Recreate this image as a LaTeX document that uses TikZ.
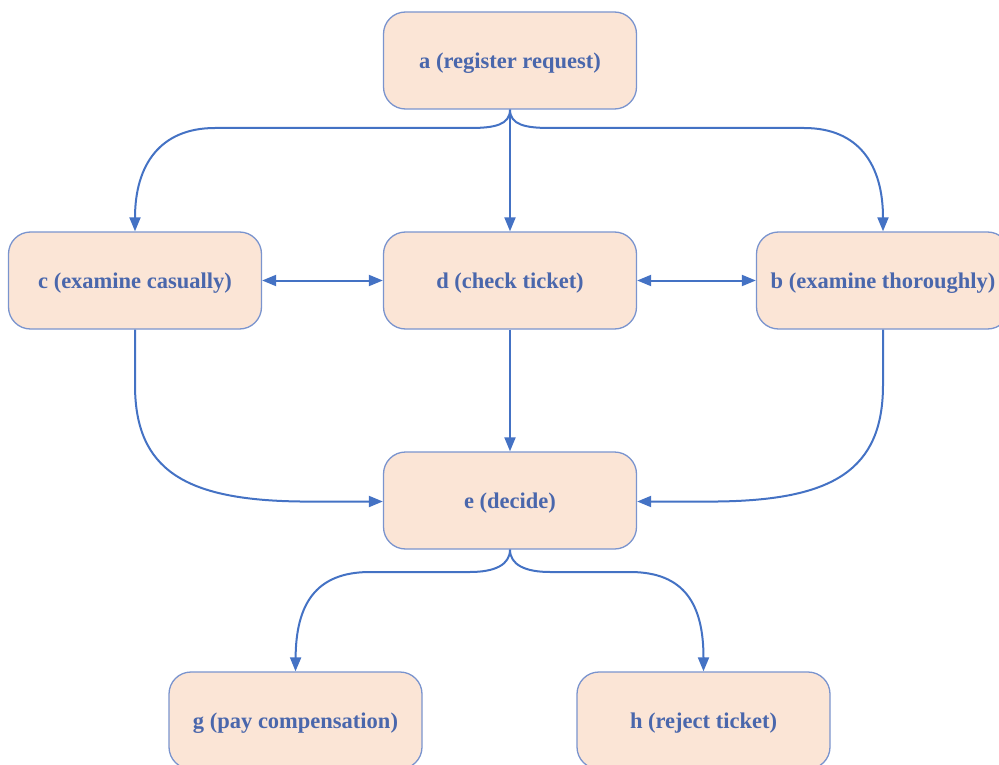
\documentclass[tikz,border=0pt]{standalone}
\usepackage{fontspec}
\setmainfont{Liberation Serif}
\usetikzlibrary{arrows.meta}
\definecolor{flowblue}{HTML}{4472C4}
\definecolor{boxline}{HTML}{7A94CE}
\definecolor{boxfill}{HTML}{FBE5D6}
\definecolor{labelblue}{HTML}{4A67AC}
\begin{document}
\begin{tikzpicture}[x=1pt,y=-1pt,
  task/.style={draw=boxline, line width=1.3pt, fill=boxfill, rounded corners=22pt,
    minimum width=253pt, minimum height=97pt, inner sep=0pt, text depth=0pt,
    text=labelblue, font=\fontsize{22.5}{26}\selectfont\bfseries},
  flow/.style={draw=flowblue, line width=2pt, -{Triangle[length=14pt,width=11pt]}},
  twoway/.style={draw=flowblue, line width=2pt, {Triangle[length=14pt,width=11pt]}-{Triangle[length=14pt,width=11pt]}}]
\useasboundingbox (0,0) rectangle (999,765);
\begin{scope}
\clip (0,0) rectangle (999,765);
\node[task] (a) at (510,60.5) {a (register request)};
\node[task] (c) at (135,280.5) {c (examine casually)};
\node[task] (d) at (510,280.5) {d (check ticket)};
\node[task] (b) at (883,280.5) {b (examine thoroughly)};
\node[task] (e) at (510,500.5) {e (decide)};
\node[task] (g) at (295.5,720.5) {g (pay compensation)};
\node[task] (h) at (703.5,720.5) {h (reject ticket)};
\end{scope}

% split after a
\draw[flow] (a.south) .. controls +(0,15) and (495,128) .. (470,128) -- (215,128)
  .. controls (160,128) and (135,165) .. (c.north);
\draw[flow] (a.south) .. controls +(0,15) and (525,128) .. (550,128) -- (804,128)
  .. controls (859,128) and (883,165) .. (b.north -| 883,0);
\draw[flow] (a.south) -- (d.north);

% exchanges between the checks
\draw[twoway] (c.east) -- (d.west);
\draw[twoway] (d.east) -- (b.west);

% join into e
\draw[flow] (d.south) -- (e.north);
\draw[flow] (c.south) -- (135,385) .. controls (135,470) and (185,500) .. (300,501.5) -- (e.west |- 0,501.5);
\draw[flow] (b.south) -- (883,385) .. controls (883,470) and (833,500) .. (718,501.5) -- (e.east |- 0,501.5);

% split after e
\draw[flow] (e.south) .. controls +(0,15) and (495,572) .. (470,572) -- (370,572)
  .. controls (315,572) and (296,605) .. (g.north);
\draw[flow] (e.south) .. controls +(0,15) and (525,572) .. (550,572) -- (630,572)
  .. controls (685,572) and (703.5,605) .. (h.north);
\end{tikzpicture}
\end{document}
